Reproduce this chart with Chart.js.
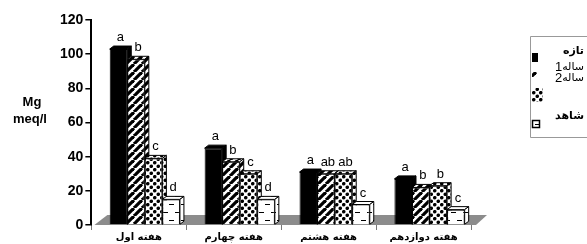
<!DOCTYPE html>
<html>
<head>
<meta charset="utf-8">
<script src="https://cdn.jsdelivr.net/npm/chart.js@4"></script>
<style>
  body { margin: 0; background: #fff; }
  #wrap { width: 587px; height: 244px; position: relative; }
</style>
</head>
<body>
<div id="wrap"><canvas id="myChart_mg" width="587" height="244"></canvas></div>
<script>
const categories = ['هفته اول', 'هفته چهارم', 'هفته هشتم', 'هفته دوازدهم'];
const seriesNames = ['تازه', '1ساله', '2ساله', 'شاهد'];
const fresh = [103, 45, 31, 27];
const oneYear = [97, 37, 30, 22];
const twoYear = [39, 30, 30, 23];
const control = [15, 15, 12, 9];
const freshLetters = ['a', 'a', 'a', 'a'];
const oneYearLetters = ['b', 'b', 'ab', 'b'];
const twoYearLetters = ['c', 'c', 'ab', 'b'];
const controlLetters = ['d', 'd', 'c', 'c'];
const yTicks = [0, 20, 40, 60, 80, 100, 120];

// fill patterns
function makePattern(kind) {
  const c = document.createElement('canvas');
  const g = c.getContext('2d');
  if (kind === 'stripes') {
    c.width = 8; c.height = 8;
    g.fillStyle = '#fff'; g.fillRect(0, 0, 8, 8);
    g.strokeStyle = '#000'; g.lineWidth = 3.2;
    [-8, 0, 8].forEach(o => {
      g.beginPath(); g.moveTo(o, 8); g.lineTo(o + 8, 0); g.stroke();
    });
  } else if (kind === 'dots') {
    c.width = 7; c.height = 7;
    g.fillStyle = '#fff'; g.fillRect(0, 0, 7, 7);
    g.fillStyle = '#000';
    [[1.75, 1.75], [5.25, 5.25]].forEach(([cx, cy]) => {
      g.beginPath(); g.arc(cx, cy, 1.8, 0, Math.PI * 2); g.fill();
    });
  } else {
    c.width = 12; c.height = 16;
    g.fillStyle = '#fff'; g.fillRect(0, 0, 12, 16);
    g.fillStyle = '#000';
    g.fillRect(1, 4, 5, 1); g.fillRect(7, 12, 5, 1);
  }
  return g.createPattern(c, 'repeat');
}

const fills = ['#000', makePattern('stripes'), makePattern('dots'), makePattern('dashes')];
const seriesValues = [fresh, oneYear, twoYear, control];
const seriesLetters = [freshLetters, oneYearLetters, twoYearLetters, controlLetters];

// 3D depth of bar faces and shift of the bars into the floor
const DX = 4, DY = 3, SHIFT = 6;

const bar3d = {
  id: 'bar3d',
  beforeDatasetsDraw(chart) {
    const { ctx, chartArea: a } = chart;
    ctx.save();
    ctx.fillStyle = '#8c8c8c';
    ctx.beginPath();
    ctx.moveTo(a.left + 3, a.bottom);
    ctx.lineTo(a.right + 5, a.bottom);
    ctx.lineTo(a.right + 16, a.bottom - 10);
    ctx.lineTo(a.left + 16, a.bottom - 10);
    ctx.closePath();
    ctx.fill();
    ctx.restore();
  },
  beforeDatasetDraw() {
    return false; // bars are drawn below, in depth order
  },
  afterDatasetsDraw(chart) {
    const ctx = chart.ctx;
    ctx.save();
    ctx.translate(SHIFT, 0);
    categories.forEach((c, j) => {
      chart.data.datasets.forEach((ds, i) => {
        const bar = chart.getDatasetMeta(i).data[j];
        const { x, y, base, width } = bar.getProps(['x', 'y', 'base', 'width'], true);
        const l = x - width / 2, r = x + width / 2;
        bar.draw(ctx);
        ctx.fillStyle = fills[i];
        ctx.strokeStyle = '#000';
        ctx.lineWidth = 1;
        ctx.beginPath();
        ctx.moveTo(l, y); ctx.lineTo(l + DX, y - DY); ctx.lineTo(r + DX, y - DY); ctx.lineTo(r, y);
        ctx.closePath(); ctx.fill(); ctx.stroke();
        ctx.beginPath();
        ctx.moveTo(r, y); ctx.lineTo(r + DX, y - DY); ctx.lineTo(r + DX, base - DY); ctx.lineTo(r, base);
        ctx.closePath(); ctx.fill(); ctx.stroke();
        ctx.fillStyle = '#000';
        ctx.font = '13px "Liberation Sans", Arial';
        ctx.textAlign = 'center';
        ctx.textBaseline = 'alphabetic';
        ctx.fillText(seriesLetters[i][j], x + DX / 2, y - DY - 5);
      });
    });
    ctx.restore();
  },
  afterDraw(chart) {
    const ctx = chart.ctx;
    ctx.save();
    // y axis title
    ctx.fillStyle = '#000';
    ctx.font = 'bold 13px "Liberation Sans", Arial';
    ctx.textAlign = 'center';
    ctx.textBaseline = 'middle';
    ctx.fillText('Mg', 32, 102);
    ctx.fillText('meq/l', 30, 119);
    // legend box
    ctx.strokeStyle = '#999';
    ctx.lineWidth = 1;
    ctx.beginPath();
    ctx.moveTo(587, 36.5); ctx.lineTo(530.5, 36.5); ctx.lineTo(530.5, 137.5); ctx.lineTo(587, 137.5);
    ctx.stroke();
    const sw = [[532, 53, 6, 9], [532, 72, 5, 5], [532, 88, 11, 14], [532, 120, 7, 7]];
    sw.forEach(([sx, sy, w, h], i) => {
      ctx.fillStyle = fills[i];
      ctx.fillRect(sx, sy, w, h);
      if (i === 3) { ctx.strokeStyle = '#000'; ctx.lineWidth = 1.5; ctx.strokeRect(sx + 0.5, sy + 0.5, w, h); }
    });
    ctx.fillStyle = '#000';
    ctx.textBaseline = 'middle';
    ctx.direction = 'ltr';
    const ly = [51, 67, 78, 116];
    seriesNames.forEach((n, i) => {
      const m = n.match(/^(\d+)(.*)$/);
      if (m) {
        // digit prefix placed to the left of the word
        ctx.font = '11px "DejaVu Sans"';
        const ww = ctx.measureText(m[2]).width;
        ctx.textAlign = 'right';
        ctx.fillText(m[2], 584, ly[i]);
        ctx.font = '13px "Liberation Sans", Arial';
        ctx.fillText(m[1], 584 - ww, ly[i]);
      } else {
        ctx.font = 'bold 11px "DejaVu Sans"';
        ctx.textAlign = 'right';
        ctx.fillText(n, 584, ly[i]);
      }
    });
    ctx.restore();
  }
};

const ctx = document.getElementById('myChart_mg').getContext('2d');
new Chart(ctx, {
  type: 'bar',
  data: {
    labels: categories,
    datasets: seriesNames.map((name, i) => ({
      label: name,
      data: seriesValues[i],
      backgroundColor: fills[i],
      borderColor: '#000',
      borderWidth: 1,
      categoryPercentage: 0.74,
      barPercentage: 1.0,
    })),
  },
  options: {
    responsive: false,
    animation: false,
    layout: { padding: { left: 58, right: 116, top: 20, bottom: 0 } },
    plugins: { legend: { display: false }, tooltip: { enabled: false } },
    scales: {
      y: {
        min: 0,
        max: 120,
        afterBuildTicks(axis) { axis.ticks = yTicks.map(v => ({ value: v })); },
        ticks: { color: '#000', font: { family: '"Liberation Sans", Arial', size: 14, weight: 'bold' }, padding: 2 },
        grid: { drawOnChartArea: false, color: '#000', lineWidth: 1.5, tickLength: 6 },
        border: { color: '#000', width: 2 },
      },
      x: {
        ticks: { color: '#000', font: { family: '"DejaVu Sans"', size: 10, weight: 'bold' }, padding: 1 },
        grid: { drawOnChartArea: false, color: '#777', tickLength: 5, offset: true },
        border: { display: false },
      },
    },
  },
  plugins: [bar3d],
});
</script>
</body>
</html>
